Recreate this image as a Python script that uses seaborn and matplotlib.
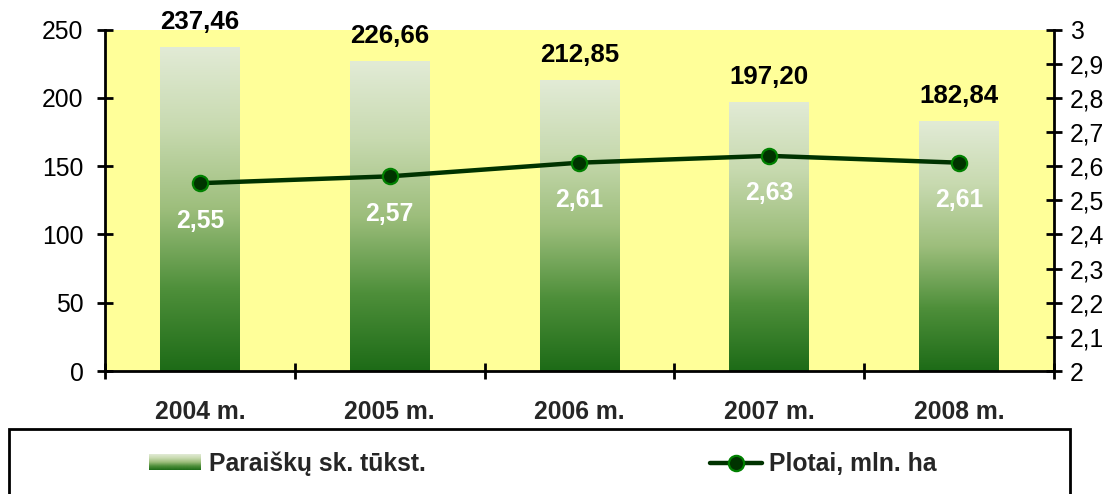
import numpy as np
import pandas as pd
import matplotlib
matplotlib.use("Agg")
import matplotlib.pyplot as plt
import seaborn as sns
from matplotlib.colors import LinearSegmentedColormap
from matplotlib.patches import Rectangle
from matplotlib.lines import Line2D
from matplotlib.legend_handler import HandlerBase
from matplotlib.image import BboxImage
from matplotlib.transforms import Bbox, TransformedBbox
from matplotlib.ticker import FixedLocator, FuncFormatter

# ---------------------------------------------------------
# Data
# ---------------------------------------------------------
years = ["2004 m.", "2005 m.", "2006 m.", "2007 m.", "2008 m."]
paraiskos = [237.46, 226.66, 212.85, 197.20, 182.84]   # thousands of applications
plotai = [2.55, 2.57, 2.61, 2.63, 2.61]                # mln. ha

bar_label = "Paraiškų sk. tūkst."
line_label = "Plotai, mln. ha"

# ---------------------------------------------------------
# Style
# ---------------------------------------------------------
sns.set_theme(style="white")
plt.rcParams["font.family"] = ["Liberation Sans", "DejaVu Sans"]

FS = 17.8
YELLOW = "#FFFF99"
LINE_GREEN = "#003300"
EDGE_GREEN = "#008000"
grad_cmap = LinearSegmentedColormap.from_list(
    "bar_grad", ["#1D6B17", "#4E8F3A", "#9DBE7C", "#C8DAB0", "#E2EBD6"])
grad = np.linspace(0, 1, 256).reshape(-1, 1)


def comma(v, pos=None):
    return f"{v:g}".replace(".", ",")


df = pd.DataFrame({"year": years, "paraiskos": paraiskos, "plotai": plotai})

fig = plt.figure(figsize=(11.07, 4.94), dpi=100)
ax = fig.add_axes([105 / 1107, 1 - 371 / 494, (1054 - 105) / 1107, (371 - 29.5) / 494])
ax.set_facecolor(YELLOW)

# ---------------------------------------------------------
# Bars with vertical gradient
# ---------------------------------------------------------
sns.barplot(data=df, x="year", y="paraiskos", ax=ax, width=0.42,
            color="#6FA050", saturation=1, edgecolor="none", zorder=2)
for p in ax.patches:
    x0, y0 = p.get_x(), p.get_y()
    w, h = p.get_width(), p.get_height()
    im = ax.imshow(grad, cmap=grad_cmap, origin="lower", aspect="auto",
                   extent=[x0, x0 + w, y0, y0 + h], zorder=2,
                   interpolation="bicubic")
    im.set_clip_path(p)
    p.set_facecolor("none")

ax.set_xlim(-0.5, len(years) - 0.5)
ax.set_ylim(0, 250)
ax.set_yticks(np.arange(0, 251, 50))
ax.set_xlabel("")
ax.set_ylabel("")

for i, v in enumerate(paraiskos):
    ax.annotate(f"{v:.2f}".replace(".", ","), (i, v), xytext=(0, 18),
                textcoords="offset points", ha="center", va="center",
                fontsize=FS + 0.8, fontweight="bold", color="black", zorder=6,
                annotation_clip=False)

# ---------------------------------------------------------
# Line on secondary axis
# ---------------------------------------------------------
ax2 = ax.twinx()
sns.lineplot(x=np.arange(len(years)), y=plotai, ax=ax2, color=LINE_GREEN,
             linewidth=3.2, marker="o", markersize=11,
             markerfacecolor=LINE_GREEN, markeredgecolor=EDGE_GREEN,
             markeredgewidth=1.6, zorder=4)
ax2.set_ylim(2, 3)
ax2.set_yticks(np.round(np.arange(2, 3.01, 0.1), 1))
ax2.yaxis.set_major_formatter(FuncFormatter(comma))
ax2.set_xlim(-0.5, len(years) - 0.5)

for i, v in enumerate(plotai):
    ax2.annotate(f"{v:.2f}".replace(".", ","), (i, v), xytext=(0, -27),
                 textcoords="offset points", ha="center", va="center",
                 fontsize=FS, fontweight="bold", color="white", zorder=5)

# ---------------------------------------------------------
# Axes cosmetics
# ---------------------------------------------------------
for a in (ax, ax2):
    for s in a.spines.values():
        s.set_color("black")
        s.set_linewidth(2)
    a.spines["top"].set_visible(False)
ax.spines["right"].set_visible(False)
ax2.spines["left"].set_visible(False)
ax2.spines["bottom"].set_visible(False)

ax.tick_params(axis="y", direction="inout", length=11, width=2, labelsize=FS,
               pad=10, left=True, colors="black")
ax2.tick_params(axis="y", direction="inout", length=11, width=2, labelsize=FS,
                pad=6, right=True, colors="black")
ax.xaxis.set_minor_locator(FixedLocator(np.arange(-0.5, len(years), 1.0)))
ax.tick_params(axis="x", which="major", length=0, labelsize=FS, pad=21)
ax.tick_params(axis="x", which="minor", direction="inout", length=11, width=2,
               bottom=True, color="black")
for t in ax.get_xticklabels():
    t.set_fontweight("bold")
ax2.grid(False)
ax.grid(False)
ax2.set_ylabel("")


# ---------------------------------------------------------
# Legend (gradient swatch)
# ---------------------------------------------------------
class GradientHandler(HandlerBase):
    def create_artists(self, legend, orig_handle, xdescent, ydescent,
                       width, height, fontsize, trans):
        bb = Bbox.from_bounds(-xdescent, -ydescent + height * 0.05, width, height * 0.9)
        img = BboxImage(TransformedBbox(bb, trans), cmap=grad_cmap,
                        interpolation="bicubic", origin="lower")
        img.set_data(grad)
        return [img]


bar_handle = Rectangle((0, 0), 1, 1, color="#6FA050")
line_handle = Line2D([], [], color=LINE_GREEN, linewidth=3.2, marker="o",
                     markersize=11, markerfacecolor=LINE_GREEN,
                     markeredgecolor=EDGE_GREEN, markeredgewidth=1.6)
fig.legend([bar_handle, line_handle], [bar_label, line_label],
           handler_map={Rectangle: GradientHandler()},
           loc="center", bbox_to_anchor=(543 / 1107, 1 - 464 / 494),
           ncol=2, frameon=False, columnspacing=11.5, handlelength=2.1,
           handletextpad=0.3, prop={"size": FS, "weight": "bold"})

fig.add_artist(Rectangle((9 / 1107, -0.1), (1070 - 9) / 1107, 0.1 + (494 - 429) / 494,
                         transform=fig.transFigure, fill=False,
                         edgecolor="black", linewidth=2))

fig.savefig("out.png", dpi=100, facecolor="white")
